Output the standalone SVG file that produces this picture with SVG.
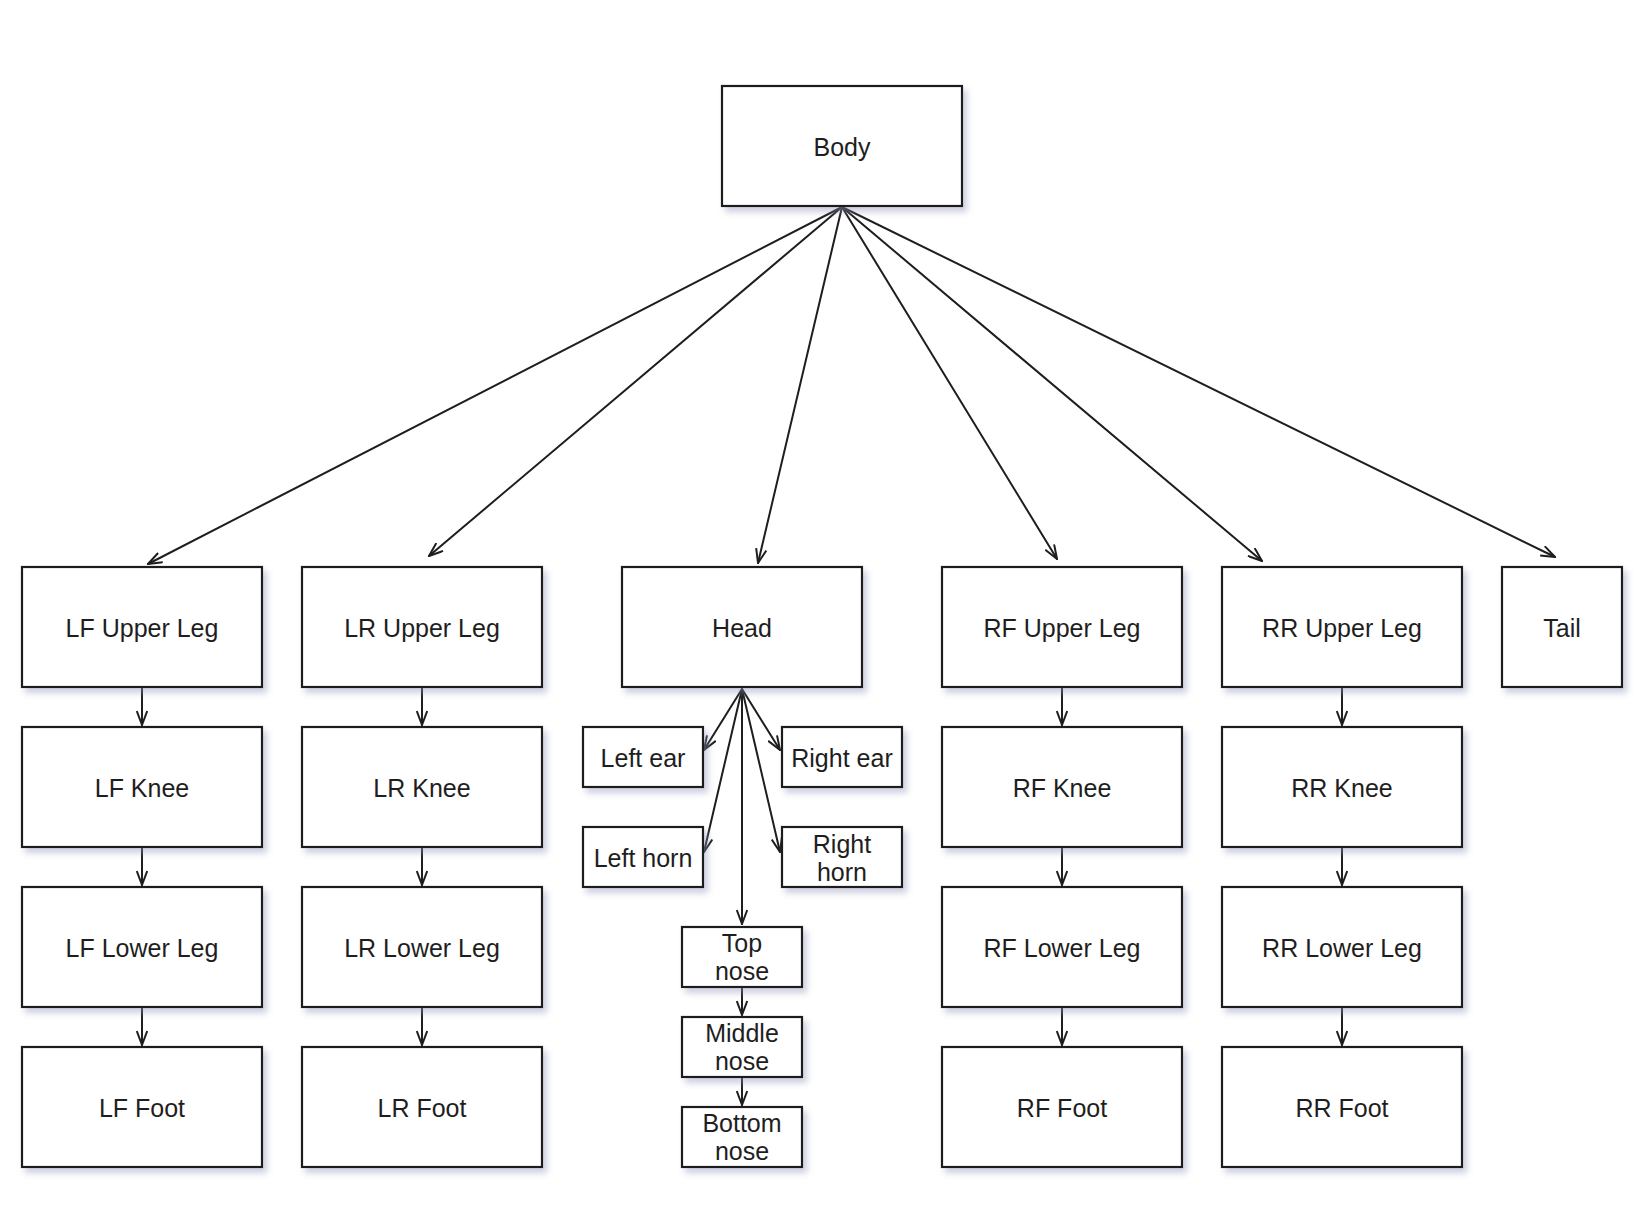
<svg xmlns="http://www.w3.org/2000/svg" width="1652" height="1210" viewBox="0 0 1652 1210">
  <defs>
    <filter id="sh" x="-10%" y="-10%" width="130%" height="140%">
      <feDropShadow dx="4" dy="5" stdDeviation="3" flood-color="#8f94b8" flood-opacity="0.45"/>
    </filter>
    <marker id="ah" viewBox="0 0 16 12" refX="15" refY="6" markerWidth="16" markerHeight="12" markerUnits="userSpaceOnUse" orient="auto">
      <path d="M1,0.8 L15,6 L1,11.2" fill="none" stroke="#1e1e1e" stroke-width="2" stroke-linejoin="round"/>
    </marker>
    <style>
      .box { fill: #ffffff; stroke: #1e1e1e; stroke-width: 2.2; filter: url(#sh); }
      .lbl { font-family: "Liberation Sans", "Open Sans", sans-serif; font-size: 25px; fill: #1e1e1e; text-anchor: middle; dominant-baseline: central; }
      .con { stroke: #1e1e1e; stroke-width: 2; fill: none; marker-end: url(#ah); stroke-linecap: round; }
    </style>
  </defs>
  <rect width="1652" height="1210" fill="#ffffff"/>

  <g id="connectors">
    <line class="con" x1="842" y1="207" x2="148" y2="564"/>
    <line class="con" x1="842" y1="207" x2="429" y2="556"/>
    <line class="con" x1="842" y1="207" x2="758" y2="563"/>
    <line class="con" x1="842" y1="207" x2="1057" y2="559"/>
    <line class="con" x1="842" y1="207" x2="1262" y2="561"/>
    <line class="con" x1="842" y1="207" x2="1555" y2="557"/>

    <line class="con" x1="142" y1="688" x2="142" y2="725"/>
    <line class="con" x1="142" y1="848" x2="142" y2="885"/>
    <line class="con" x1="142" y1="1008" x2="142" y2="1045"/>
    <line class="con" x1="422" y1="688" x2="422" y2="725"/>
    <line class="con" x1="422" y1="848" x2="422" y2="885"/>
    <line class="con" x1="422" y1="1008" x2="422" y2="1045"/>
    <line class="con" x1="1062" y1="688" x2="1062" y2="725"/>
    <line class="con" x1="1062" y1="848" x2="1062" y2="885"/>
    <line class="con" x1="1062" y1="1008" x2="1062" y2="1045"/>
    <line class="con" x1="1342" y1="688" x2="1342" y2="725"/>
    <line class="con" x1="1342" y1="848" x2="1342" y2="885"/>
    <line class="con" x1="1342" y1="1008" x2="1342" y2="1045"/>

    <line class="con" x1="742" y1="689" x2="704" y2="750"/>
    <line class="con" x1="742" y1="689" x2="780" y2="750"/>
    <line class="con" x1="742" y1="689" x2="704" y2="852"/>
    <line class="con" x1="742" y1="689" x2="780" y2="852"/>
    <line class="con" x1="742" y1="689" x2="742" y2="924"/>
    <line class="con" x1="742" y1="988" x2="742" y2="1015"/>
    <line class="con" x1="742" y1="1078" x2="742" y2="1105"/>
  </g>

  <g id="body"><rect class="box" x="722" y="86" width="240" height="120"/><text class="lbl" x="842" y="147">Body</text></g>

  <g id="lf-upper-leg"><rect class="box" x="22" y="567" width="240" height="120"/><text class="lbl" x="142" y="628">LF Upper Leg</text></g>
  <g id="lr-upper-leg"><rect class="box" x="302" y="567" width="240" height="120"/><text class="lbl" x="422" y="628">LR Upper Leg</text></g>
  <g id="head"><rect class="box" x="622" y="567" width="240" height="120"/><text class="lbl" x="742" y="628">Head</text></g>
  <g id="rf-upper-leg"><rect class="box" x="942" y="567" width="240" height="120"/><text class="lbl" x="1062" y="628">RF Upper Leg</text></g>
  <g id="rr-upper-leg"><rect class="box" x="1222" y="567" width="240" height="120"/><text class="lbl" x="1342" y="628">RR Upper Leg</text></g>
  <g id="tail"><rect class="box" x="1502" y="567" width="120" height="120"/><text class="lbl" x="1562" y="628">Tail</text></g>

  <g id="lf-knee"><rect class="box" x="22" y="727" width="240" height="120"/><text class="lbl" x="142" y="788">LF Knee</text></g>
  <g id="lr-knee"><rect class="box" x="302" y="727" width="240" height="120"/><text class="lbl" x="422" y="788">LR Knee</text></g>
  <g id="rf-knee"><rect class="box" x="942" y="727" width="240" height="120"/><text class="lbl" x="1062" y="788">RF Knee</text></g>
  <g id="rr-knee"><rect class="box" x="1222" y="727" width="240" height="120"/><text class="lbl" x="1342" y="788">RR Knee</text></g>

  <g id="lf-lower-leg"><rect class="box" x="22" y="887" width="240" height="120"/><text class="lbl" x="142" y="948">LF Lower Leg</text></g>
  <g id="lr-lower-leg"><rect class="box" x="302" y="887" width="240" height="120"/><text class="lbl" x="422" y="948">LR Lower Leg</text></g>
  <g id="rf-lower-leg"><rect class="box" x="942" y="887" width="240" height="120"/><text class="lbl" x="1062" y="948">RF Lower Leg</text></g>
  <g id="rr-lower-leg"><rect class="box" x="1222" y="887" width="240" height="120"/><text class="lbl" x="1342" y="948">RR Lower Leg</text></g>

  <g id="lf-foot"><rect class="box" x="22" y="1047" width="240" height="120"/><text class="lbl" x="142" y="1108">LF Foot</text></g>
  <g id="lr-foot"><rect class="box" x="302" y="1047" width="240" height="120"/><text class="lbl" x="422" y="1108">LR Foot</text></g>
  <g id="rf-foot"><rect class="box" x="942" y="1047" width="240" height="120"/><text class="lbl" x="1062" y="1108">RF Foot</text></g>
  <g id="rr-foot"><rect class="box" x="1222" y="1047" width="240" height="120"/><text class="lbl" x="1342" y="1108">RR Foot</text></g>

  <g id="left-ear"><rect class="box" x="583" y="727" width="120" height="60"/><text class="lbl" x="643" y="758">Left ear</text></g>
  <g id="right-ear"><rect class="box" x="782" y="727" width="120" height="60"/><text class="lbl" x="842" y="758">Right ear</text></g>
  <g id="left-horn"><rect class="box" x="583" y="827" width="120" height="60"/><text class="lbl" x="643" y="858">Left horn</text></g>
  <g id="right-horn"><rect class="box" x="782" y="827" width="120" height="60"/><text class="lbl" x="842" y="844">Right</text><text class="lbl" x="842" y="872">horn</text></g>
  <g id="top-nose"><rect class="box" x="682" y="927" width="120" height="60"/><text class="lbl" x="742" y="943">Top</text><text class="lbl" x="742" y="971">nose</text></g>
  <g id="middle-nose"><rect class="box" x="682" y="1017" width="120" height="60"/><text class="lbl" x="742" y="1033">Middle</text><text class="lbl" x="742" y="1061">nose</text></g>
  <g id="bottom-nose"><rect class="box" x="682" y="1107" width="120" height="60"/><text class="lbl" x="742" y="1123">Bottom</text><text class="lbl" x="742" y="1151">nose</text></g>
</svg>
